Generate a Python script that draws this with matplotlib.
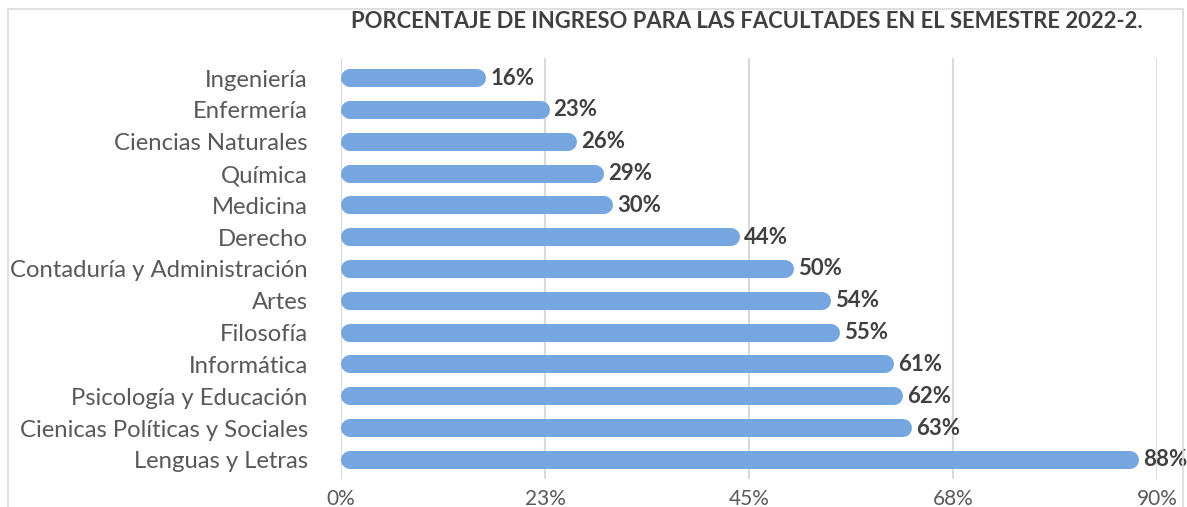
import matplotlib
matplotlib.use("Agg")
import matplotlib.pyplot as plt
from matplotlib.patches import Rectangle

# --- data (top to bottom as shown) ---
categories = [
    "Ingeniería", "Enfermería", "Ciencias Naturales", "Química", "Medicina",
    "Derecho", "Contaduría y Administración", "Artes", "Filosofía",
    "Informática", "Psicología y Educación", "Cienicas Políticas y Sociales",
    "Lenguas y Letras",
]
values = [16, 23, 26, 29, 30, 44, 50, 54, 55, 61, 62, 63, 88]
xticks = [0, 22.5, 45, 67.5, 90]
xtick_labels = ["0%", "23%", "45%", "68%", "90%"]
title = "PORCENTAJE DE INGRESO PARA LAS FACULTADES EN EL SEMESTRE 2022-2."

plt.rcParams["font.family"] = ["Lato", "DejaVu Sans"]

W, H, DPI = 1187, 507, 100
fig = plt.figure(figsize=(W / DPI, H / DPI), dpi=DPI)
ax = fig.add_axes([341 / W, 1 - 479 / H, (1157 - 341) / W, (479 - 58) / H])

bar_color = "#75A6DF"
bar_px = 18
n = len(categories)
ys = list(range(n))

ax.set_xlim(0, 90)
ax.set_ylim(n - 0.4, -0.63)

# data units per pixel along x, for the rounded caps
px_per_unit = (1157 - 341) / 90
r = (bar_px / 2) / px_per_unit
lw_pt = bar_px * 72 / DPI

for y, v in zip(ys, values):
    ax.plot([r, max(v - r, r)], [y, y], color=bar_color, lw=lw_pt,
            solid_capstyle="round", zorder=3)
    ax.text(v + 0.45, y, f"{v}%", va="center", ha="left", fontsize=16,
            fontweight="bold", color="#404040", zorder=4, clip_on=False)

ax.set_yticks(ys)
ax.set_yticklabels(categories, fontsize=17.2, color="#595959")
ax.set_xticks(xticks)
ax.set_xticklabels(xtick_labels, fontsize=15, color="#595959")
ax.tick_params(length=0, pad=7)
ax.tick_params(axis="y", pad=24)
ax.grid(axis="x", color="#D9D9D9", lw=1.5, zorder=0)
for s in ax.spines.values():
    s.set_visible(False)

fig.text(0.5 * (352 + 1142) / W, 1 - 22 / H, title, ha="center", va="center",
         fontsize=15.8, fontweight="bold", color="#404040")

fig.patches.append(Rectangle((8 / W, -0.1), (1183 - 8) / W, 1.1 - 9 / H,
                             transform=fig.transFigure, fill=False,
                             edgecolor="#D9D9D9", lw=1.2))

fig.savefig("out.png", dpi=DPI)
